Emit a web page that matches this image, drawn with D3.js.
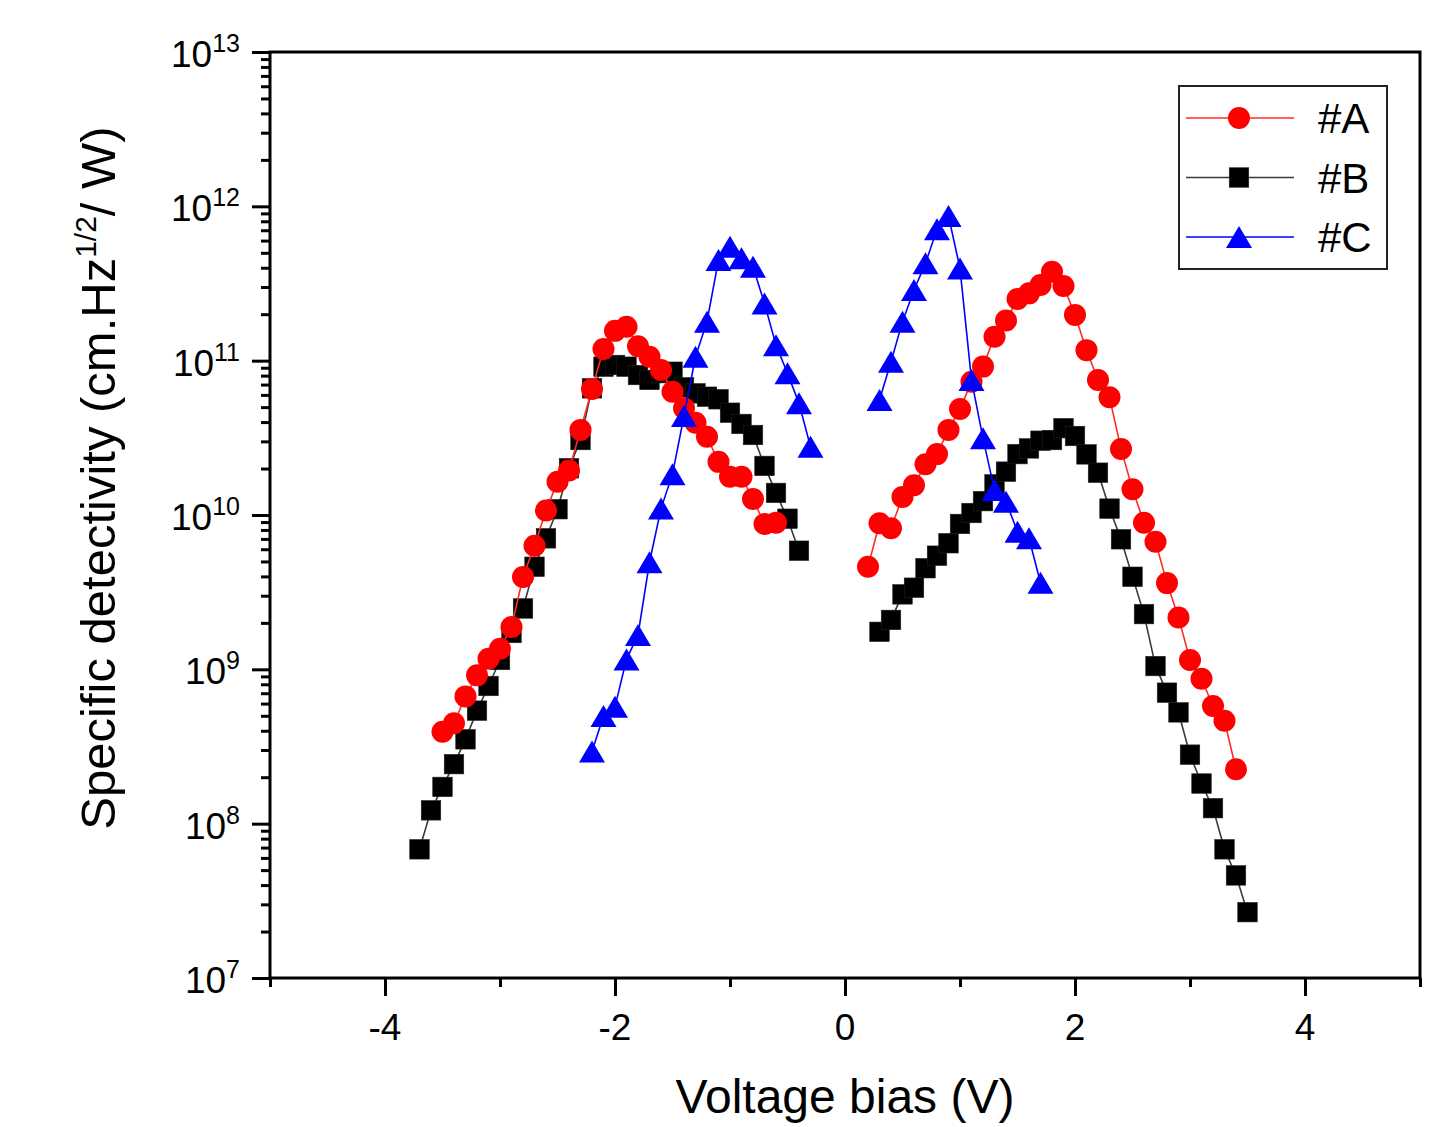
<!DOCTYPE html>
<html>
<head>
<meta charset="utf-8">
<script src="https://cdn.jsdelivr.net/npm/d3@7/dist/d3.min.js"></script>
<style>
  html, body { margin: 0; padding: 0; background: #fff; }
  text { font-family: "Liberation Sans", Arial, sans-serif; fill: #000; }
</style>
</head>
<body>
<svg id="chart" width="1443" height="1127"></svg>
<script>
// ---------------- data ----------------
const seriesNames = ["#A", "#B", "#C"];

const aVoltLeft = [-3.5,-3.4,-3.3,-3.2,-3.1,-3.0,-2.9,-2.8,-2.7,-2.6,-2.5,-2.4,-2.3,-2.2,-2.1,-2.0,-1.9,-1.8,-1.7,-1.6,-1.5,-1.4,-1.3,-1.2,-1.1,-1.0,-0.9,-0.8,-0.7,-0.6];
const aValLeft = [3.94e8,4.47e8,6.68e8,9.14e8,1.17e9,1.36e9,1.88e9,3.96e9,6.32e9,1.07e10,1.64e10,1.94e10,3.56e10,6.55e10,1.19e11,1.56e11,1.66e11,1.24e11,1.06e11,8.70e10,6.29e10,4.91e10,3.96e10,3.21e10,2.21e10,1.77e10,1.77e10,1.27e10,8.75e9,8.91e9];
const aVoltRight = [0.2,0.3,0.4,0.5,0.6,0.7,0.8,0.9,1.0,1.1,1.2,1.3,1.4,1.5,1.6,1.7,1.8,1.9,2.0,2.1,2.2,2.3,2.4,2.5,2.6,2.7,2.8,2.9,3.0,3.1,3.2,3.3,3.4];
const aValRight = [4.62e9,8.83e9,8.20e9,1.31e10,1.56e10,2.13e10,2.48e10,3.56e10,4.86e10,7.31e10,9.15e10,1.43e11,1.82e11,2.51e11,2.73e11,3.09e11,3.77e11,3.05e11,1.98e11,1.17e11,7.50e10,5.79e10,2.68e10,1.47e10,8.91e9,6.71e9,3.62e9,2.17e9,1.15e9,8.69e8,5.78e8,4.64e8,2.25e8];

const bVoltLeft = [-3.7,-3.6,-3.5,-3.4,-3.3,-3.2,-3.1,-3.0,-2.9,-2.8,-2.7,-2.6,-2.5,-2.4,-2.3,-2.2,-2.1,-2.0,-1.9,-1.8,-1.7,-1.6,-1.5,-1.4,-1.3,-1.2,-1.1,-1.0,-0.9,-0.8,-0.7,-0.6,-0.5,-0.4];
const bValLeft = [6.82e7,1.22e8,1.73e8,2.43e8,3.52e8,5.40e8,7.80e8,1.15e9,1.72e9,2.48e9,4.62e9,7.06e9,1.09e10,2.01e10,3.06e10,6.62e10,9.14e10,9.38e10,9.14e10,8.07e10,7.50e10,8.30e10,8.48e10,6.72e10,6.14e10,5.84e10,5.62e10,4.60e10,3.89e10,3.30e10,2.08e10,1.39e10,9.46e9,5.87e9];
const bVoltRight = [0.3,0.4,0.5,0.6,0.7,0.8,0.9,1.0,1.1,1.2,1.3,1.4,1.5,1.6,1.7,1.8,1.9,2.0,2.1,2.2,2.3,2.4,2.5,2.6,2.7,2.8,2.9,3.0,3.1,3.2,3.3,3.4,3.5];
const bValRight = [1.75e9,2.09e9,3.06e9,3.38e9,4.52e9,5.45e9,6.56e9,8.75e9,1.03e10,1.23e10,1.58e10,1.91e10,2.48e10,2.70e10,3.03e10,3.06e10,3.65e10,3.25e10,2.47e10,1.88e10,1.10e10,6.96e9,3.98e9,2.28e9,1.05e9,7.06e8,5.26e8,2.80e8,1.82e8,1.26e8,6.82e7,4.62e7,2.67e7];

const cVoltLeft = [-2.2,-2.1,-2.0,-1.9,-1.8,-1.7,-1.6,-1.5,-1.4,-1.3,-1.2,-1.1,-1.0,-0.9,-0.8,-0.7,-0.6,-0.5,-0.4,-0.3];
const cValLeft = [2.93e8,4.99e8,5.73e8,1.16e9,1.67e9,4.94e9,1.10e10,1.84e10,4.38e10,1.06e11,1.79e11,4.49e11,5.48e11,4.61e11,4.06e11,2.35e11,1.26e11,8.28e10,5.29e10,2.77e10];
const cVoltRight = [0.3,0.4,0.5,0.6,0.7,0.8,0.9,1.0,1.1,1.2,1.3,1.4,1.5,1.6,1.7];
const cValRight = [5.56e10,9.84e10,1.79e11,2.87e11,4.27e11,7.10e11,8.66e11,3.96e11,7.50e10,3.14e10,1.45e10,1.22e10,7.80e9,7.06e9,3.64e9];

const xMajorTicks = [-4,-2,0,2,4];
const xMinorTicks = [-5,-3,-1,1,3,5];
const yMajorExponents = [7,8,9,10,11,12,13];

const xTitle = "Voltage bias (V)";
const yTitleMain = "Specific detectivity (cm.Hz";
const yTitleSup = "1/2";
const yTitleEnd = "/ W)";

// ---------------- layout ----------------
const svg = d3.select("#chart");
const L = 270, R = 1420, T = 52, B = 978;
const x = d3.scaleLinear().domain([-5, 5]).range([L, R]);
const y = d3.scaleLog().domain([1e7, 1e13]).range([B, T]);

const toPts = (vs, ds) => vs.map((v, i) => ({ v: v, d: ds[i] }));
const series = [
  { name: "#B", color: "#000000", line: "#3a3a3a", shape: "square",
    segs: [toPts(bVoltLeft, bValLeft), toPts(bVoltRight, bValRight)] },
  { name: "#A", color: "#ff0000", line: "#ff2a2a", shape: "circle",
    segs: [toPts(aVoltLeft, aValLeft), toPts(aVoltRight, aValRight)] },
  { name: "#C", color: "#0000ff", line: "#0000ff", shape: "triangle",
    segs: [toPts(cVoltLeft, cValLeft), toPts(cVoltRight, cValRight)] }
];

function drawSymbol(g, shape, color) {
  if (shape === "circle") {
    g.append("circle").attr("r", 11).attr("fill", color);
  } else if (shape === "square") {
    const s = 19.5;
    g.append("rect").attr("x", -s/2).attr("y", -s/2).attr("width", s).attr("height", s)
      .attr("fill", color).attr("stroke", "#222").attr("stroke-width", 0.6);
  } else {
    const w = 26, h = 22;
    g.append("path").attr("d", `M0,${-h/2}L${w/2},${h/2}L${-w/2},${h/2}Z`).attr("fill", color);
  }
}

const line = d3.line().x(p => x(p.v)).y(p => y(p.d));

const plot = svg.append("g");
series.forEach(s => {
  const g = plot.append("g");
  s.segs.forEach(seg => {
    g.append("path").attr("d", line(seg)).attr("fill", "none")
      .attr("stroke", s.line).attr("stroke-width", 1.6);
  });
  s.segs.forEach(seg => {
    seg.forEach(p => {
      const sg = g.append("g").attr("transform", `translate(${x(p.v)},${y(p.d)})`);
      drawSymbol(sg, s.shape, s.color);
    });
  });
});

// ---------------- axes ----------------
svg.append("rect").attr("x", L).attr("y", T).attr("width", R - L).attr("height", B - T)
  .attr("fill", "none").attr("stroke", "#000").attr("stroke-width", 3);

const xAxisMajor = d3.axisBottom(x).tickValues(xMajorTicks).tickSize(18).tickFormat("");
const xAxisMinor = d3.axisBottom(x).tickValues(xMinorTicks).tickSize(9).tickFormat("");
[xAxisMajor, xAxisMinor].forEach(ax => {
  const g = svg.append("g").attr("transform", `translate(0,${B})`).call(ax);
  g.select(".domain").remove();
  g.selectAll(".tick line").attr("stroke", "#000").attr("stroke-width", 3);
});
svg.append("g").selectAll("text").data(xMajorTicks).join("text")
  .attr("x", d => x(d)).attr("y", 1040).attr("text-anchor", "middle")
  .attr("font-size", 37).text(d => d < 0 ? "-" + Math.abs(d) : String(d));

const yMajorVals = yMajorExponents.map(e => Math.pow(10, e));
const yMinorVals = [];
yMajorExponents.slice(0, -1).forEach(e => {
  [2,3,4,5,6,7,8,9].forEach(m => yMinorVals.push(m * Math.pow(10, e)));
});
const yAxisMajor = d3.axisLeft(y).tickValues(yMajorVals).tickSize(18).tickFormat("");
const yAxisMinor = d3.axisLeft(y).tickValues(yMinorVals).tickSize(9).tickFormat("");
[yAxisMajor, yAxisMinor].forEach(ax => {
  const g = svg.append("g").attr("transform", `translate(${L},0)`).call(ax);
  g.select(".domain").remove();
  g.selectAll(".tick line").attr("stroke", "#000").attr("stroke-width", 3);
});
const yl = svg.append("g").selectAll("text").data(yMajorExponents).join("text")
  .attr("x", 240).attr("y", d => y(Math.pow(10, d)) + 15).attr("text-anchor", "end")
  .attr("font-size", 37);
yl.append("tspan").text("10");
yl.append("tspan").attr("font-size", 25).attr("dy", -15).text(d => String(d));

// axis titles
svg.append("text").attr("x", 845).attr("y", 1113).attr("text-anchor", "middle")
  .attr("font-size", 48).text(xTitle);

const yt = svg.append("text").attr("transform", "translate(115,478) rotate(-90)")
  .attr("text-anchor", "middle").attr("font-size", 49);
yt.append("tspan").text(yTitleMain);
yt.append("tspan").attr("font-size", 30).attr("dy", -19).text(yTitleSup);
yt.append("tspan").attr("dy", 19).text(yTitleEnd);

// ---------------- legend ----------------
const legendOrder = [
  { name: seriesNames[0], color: "#ff0000", line: "#ff2a2a", shape: "circle" },
  { name: seriesNames[1], color: "#000000", line: "#3a3a3a", shape: "square" },
  { name: seriesNames[2], color: "#0000ff", line: "#0000ff", shape: "triangle" }
];
const lg = svg.append("g");
lg.append("rect").attr("x", 1179).attr("y", 86).attr("width", 208).attr("height", 183)
  .attr("fill", "#fff").attr("stroke", "#222").attr("stroke-width", 2);
legendOrder.forEach((s, i) => {
  const ly = 118 + i * 59.5;
  lg.append("line").attr("x1", 1186).attr("x2", 1294).attr("y1", ly).attr("y2", ly)
    .attr("stroke", s.line).attr("stroke-width", 1.6);
  const sg = lg.append("g").attr("transform", `translate(1239,${ly})`);
  drawSymbol(sg, s.shape, s.color);
  lg.append("text").attr("x", 1318).attr("y", ly + 15).attr("font-size", 42).text(s.name);
});
</script>
</body>
</html>
